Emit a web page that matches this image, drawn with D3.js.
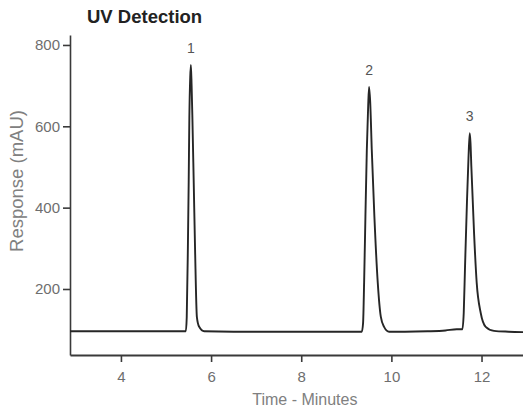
<!DOCTYPE html>
<html>
<head>
<meta charset="utf-8">
<script src="https://cdn.jsdelivr.net/npm/d3@7"></script>
<style>
  html, body { margin: 0; padding: 0; background: #fff; }
  svg { display: block; font-family: "Liberation Sans", Arial, Helvetica, sans-serif; }
</style>
</head>
<body>
<svg id="chart" width="523" height="407"></svg>
<script>
// Trace: retention time (min) and detector response (mAU)
const times = [2.87, 4.0, 5.0, 5.44, 5.46, 5.485, 5.503, 5.518, 5.537, 5.552, 5.568, 5.585, 5.615, 5.645, 5.685, 5.736, 5.847, 6.5, 7.5, 8.5, 9.2, 9.344, 9.372, 9.395, 9.424, 9.455, 9.485, 9.505, 9.53, 9.565, 9.623, 9.698, 9.765, 9.838, 9.949, 10.3, 10.8, 11.2, 11.45, 11.575, 11.605, 11.634, 11.678, 11.71, 11.738, 11.755, 11.774, 11.834, 11.893, 11.982, 12.093, 12.277, 12.6, 12.92];
const response = [96, 96, 96, 96, 131, 300, 461, 623, 720, 751, 700, 623, 461, 296, 131, 107, 96, 95, 95, 95, 95, 95, 116, 215, 378, 542, 650, 697, 660, 542, 378, 215, 132, 107, 95, 95, 96, 98, 101, 101, 141, 255, 419, 520, 583, 560, 501, 338, 215, 141, 107, 97, 95, 94];

// Peak annotations
const peakLabels = ["1", "2", "3"];
const peakTimes = [5.552, 9.505, 11.738];
const peakTops = [751, 697, 583];

// Axis ticks
const xTicks = [4, 6, 8, 10, 12];
const yTicks = [200, 400, 600, 800];

const titleText = "UV Detection";
const xTitle = "Time - Minutes";
const yTitle = "Response (mAU)";

const svg = d3.select("#chart");

const x = d3.scaleLinear().domain([2.87, 12.92]).range([70, 523]);
const y = d3.scaleLinear().domain([37.7, 824.5]).range([355, 35]);

// Y axis
const yAxis = svg.append("g")
  .attr("transform", "translate(70,0)")
  .call(d3.axisLeft(y).tickValues(yTicks).tickSize(7).tickSizeOuter(0).tickPadding(3));
yAxis.select(".domain").attr("stroke", "#3a3a3a").attr("stroke-width", 1.6);
yAxis.selectAll(".tick line").attr("stroke", "#3a3a3a").attr("stroke-width", 1.6);
yAxis.selectAll(".tick text").attr("fill", "#6e6e6e").attr("font-size", 15);

// X axis
const xAxis = svg.append("g")
  .attr("transform", "translate(0,355)")
  .call(d3.axisBottom(x).tickValues(xTicks).tickSize(7).tickSizeOuter(0).tickPadding(9));
xAxis.select(".domain").attr("stroke", "#3a3a3a").attr("stroke-width", 2);
xAxis.selectAll(".tick line").attr("stroke", "#3a3a3a").attr("stroke-width", 1.6);
xAxis.selectAll(".tick text").attr("fill", "#6e6e6e").attr("font-size", 15);

// Trace
const pts = times.map((t, i) => [t, response[i]]);
svg.append("path")
  .datum(pts)
  .attr("fill", "none")
  .attr("stroke", "#262626")
  .attr("stroke-width", 1.9)
  .attr("stroke-linejoin", "round")
  .attr("d", d3.line().x(d => x(d[0])).y(d => y(d[1])).curve(d3.curveMonotoneX));

// Peak labels
svg.append("g").selectAll("text")
  .data(peakLabels)
  .join("text")
  .attr("x", (d, i) => x(peakTimes[i]))
  .attr("y", (d, i) => y(peakTops[i]) - 12)
  .attr("text-anchor", "middle")
  .attr("fill", "#555")
  .attr("font-size", 14)
  .text(d => d);

// Titles
svg.append("text")
  .attr("x", 87).attr("y", 23)
  .attr("font-weight", "bold")
  .attr("font-size", 18.5)
  .attr("fill", "#222")
  .text(titleText);

svg.append("text")
  .attr("x", x(8.08)).attr("y", 405)
  .attr("text-anchor", "middle")
  .attr("font-size", 16)
  .attr("fill", "#808080")
  .text(xTitle);

svg.append("text")
  .attr("transform", "translate(23,181) rotate(-90)")
  .attr("text-anchor", "middle")
  .attr("font-size", 18.5)
  .attr("fill", "#808080")
  .text(yTitle);
</script>
</body>
</html>
